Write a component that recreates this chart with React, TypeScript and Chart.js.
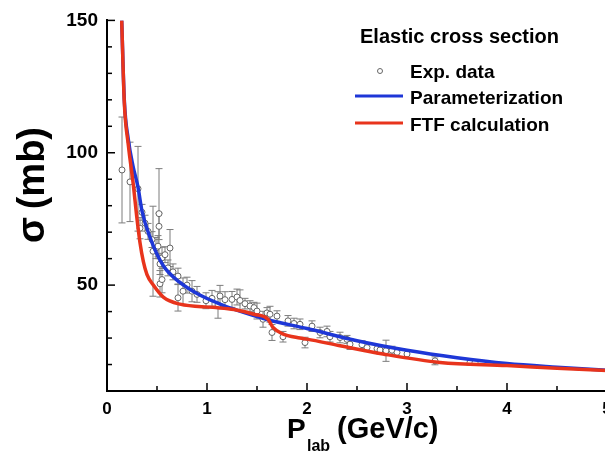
import React, { useEffect, useRef } from "react";
import { Chart, registerables } from "chart.js";

Chart.register(...registerables);

// Experimental data: P_lab (GeV/c), sigma (mb), error (mb)
const expP = [
  0.15, 0.23, 0.31, 0.33, 0.35, 0.38, 0.41, 0.45, 0.46, 0.49, 0.51, 0.52, 0.52, 0.53,
  0.53, 0.55, 0.55, 0.58, 0.61, 0.63, 0.66, 0.71, 0.71, 0.76, 0.8, 0.85, 0.9, 0.99,
  1.05, 1.11, 1.13, 1.18, 1.25, 1.3, 1.33, 1.38, 1.43, 1.47, 1.5, 1.56, 1.6, 1.63,
  1.65, 1.7, 1.76, 1.81, 1.87, 1.93, 1.98, 2.05, 2.13, 2.2, 2.23, 2.33, 2.4, 2.43,
  2.55, 2.6, 2.7, 2.73, 2.79, 2.85, 2.9, 3.0, 3.28, 3.63, 3.68,
];
const expSigma = [
  93.5, 89, 86.4, 71.5, 77.5, 73.4, 70.3, 67.2, 62.8, 64, 64.7, 77, 72.2, 58,
  50.5, 60.3, 52.1, 61.5, 56.5, 64, 55, 53.4, 45.2, 47.7, 50, 47.7, 46.5, 44.1,
  45, 42.5, 45.9, 44.5, 44.6, 45.5, 44.2, 43, 42.1, 41.5, 40.2, 37.1, 39.5, 39,
  32.1, 38.3, 30.5, 36.5, 35.5, 35.2, 28.3, 34.5, 32.1, 32.5, 30.5, 30.2, 29.5, 27.7,
  27.5, 26.4, 26, 25.5, 25.2, 25.4, 24.6, 24, 21.4, 20.8, 20.8,
];
const expErr = [
  20, 15, 16, 4, 3, 3, 3, 3, 17, 4, 4, 17, 5, 4,
  5, 4, 5, 3, 3, 7, 3, 3, 5, 5, 3, 4, 3, 3,
  3, 5, 4, 3, 3, 3, 4, 2, 2, 2, 3, 3, 2, 3,
  3, 2, 2, 2, 2, 2, 2, 2, 2, 2, 2, 2, 1.5, 2,
  1.5, 1.5, 1.5, 1.5, 4, 1.5, 1.5, 1.5, 1.5, 1, 1,
];

// Parameterization curve
const paramP = [0.147, 0.173, 0.213, 0.26, 0.31, 0.35, 0.43, 0.56, 0.73, 0.9, 1.13, 1.26, 1.6, 2.0, 2.5, 3.0, 3.5, 4.0, 4.5, 5.0];
const paramSigma = [150, 120, 105, 95, 87, 78, 68, 57.5, 51, 46.8, 42.8, 41, 37, 33.6, 29, 25.4, 22.6, 20.4, 19, 17.8];

// FTF calculation curve
const ftfP = [0.147, 0.173, 0.213, 0.263, 0.297, 0.33, 0.363, 0.4, 0.463, 0.563, 0.73, 1.06, 1.27, 1.47, 1.61, 1.66, 1.75, 1.93, 2.0, 2.33, 2.76, 3.33, 4.0, 4.5, 5.0];
const ftfSigma = [150, 119, 103, 88, 76, 66, 59, 54, 50, 45.5, 42.8, 41.6, 40.8, 39, 37.1, 34, 31.7, 30, 29.6, 27.1, 24, 20.8, 19.6, 18.6, 17.7];

const yLabelValues = [50, 100, 150];
const xLabelValues = [0, 1, 2, 3, 4, 5];

const FONT = '"Liberation Sans", Arial, Helvetica, sans-serif';
const BLUE = "rgb(30,55,215)";
const RED = "rgb(232,52,28)";

const errorBars = {
  id: "errorBars",
  beforeDatasetsDraw(chart: any) {
    const { ctx, chartArea, scales } = chart;
    const x = scales.x, y = scales.y;
    ctx.save();
    ctx.beginPath();
    ctx.rect(chartArea.left, chartArea.top, chartArea.right - chartArea.left, chartArea.bottom - chartArea.top);
    ctx.clip();
    ctx.strokeStyle = "#7d7d7d";
    ctx.lineWidth = 1;
    for (let i = 0; i < expP.length; i++) {
      const px = x.getPixelForValue(expP[i]);
      const t = y.getPixelForValue(expSigma[i] + expErr[i]);
      const b = y.getPixelForValue(expSigma[i] - expErr[i]);
      ctx.beginPath();
      ctx.moveTo(px, t);
      ctx.lineTo(px, b);
      ctx.moveTo(px - 3.5, t);
      ctx.lineTo(px + 3.5, t);
      ctx.moveTo(px - 3.5, b);
      ctx.lineTo(px + 3.5, b);
      ctx.stroke();
    }
    ctx.restore();
  },
};

const decorations = {
  id: "decorations",
  afterDraw(chart: any) {
    const { ctx, chartArea, scales } = chart;
    const x = scales.x, y = scales.y;
    ctx.save();
    // inward ticks
    ctx.strokeStyle = "#000";
    ctx.lineWidth = 1.5;
    y.ticks.forEach((t: any) => {
      const py = y.getPixelForValue(t.value);
      const len = yLabelValues.includes(t.value) ? 8 : 5;
      ctx.beginPath();
      ctx.moveTo(chartArea.left, py);
      ctx.lineTo(chartArea.left + len, py);
      ctx.stroke();
    });
    x.ticks.forEach((t: any) => {
      const px = x.getPixelForValue(t.value);
      const len = xLabelValues.includes(t.value) ? 8 : 5;
      ctx.beginPath();
      ctx.moveTo(px, chartArea.bottom);
      ctx.lineTo(px, chartArea.bottom - len);
      ctx.stroke();
    });

    // y axis title
    ctx.fillStyle = "#000";
    ctx.save();
    ctx.translate(44, 243);
    ctx.rotate(-Math.PI / 2);
    ctx.textBaseline = "alphabetic";
    ctx.textAlign = "left";
    ctx.font = `bold 38px ${FONT}`;
    ctx.fillText("σ", 0, 0);
    ctx.textAlign = "right";
    ctx.fillText("(mb)", 116, 0);
    ctx.restore();

    // x axis title
    ctx.textAlign = "left";
    ctx.textBaseline = "alphabetic";
    ctx.font = `bold 28px ${FONT}`;
    ctx.fillText("P", 287, 438);
    ctx.font = `bold 16px ${FONT}`;
    ctx.fillText("lab", 307, 451);
    ctx.font = `bold 29px ${FONT}`;
    ctx.fillText("(GeV/c)", 337, 438);

    // legend
    ctx.font = `bold 20px ${FONT}`;
    ctx.fillText("Elastic cross section", 360, 43);
    ctx.font = `bold 19px ${FONT}`;
    ctx.fillText("Exp. data", 410, 78);
    ctx.fillText("Parameterization", 410, 104);
    ctx.fillText("FTF calculation", 410, 131);
    ctx.beginPath();
    ctx.arc(380, 71, 2.5, 0, Math.PI * 2);
    ctx.fillStyle = "#fff";
    ctx.fill();
    ctx.strokeStyle = "#666";
    ctx.lineWidth = 1;
    ctx.stroke();
    ctx.lineWidth = 3;
    ctx.strokeStyle = BLUE;
    ctx.beginPath();
    ctx.moveTo(355, 96);
    ctx.lineTo(403, 96);
    ctx.stroke();
    ctx.strokeStyle = RED;
    ctx.beginPath();
    ctx.moveTo(355, 123);
    ctx.lineTo(403, 123);
    ctx.stroke();
    ctx.restore();
  },
};

export default function App() {
  const ref = useRef<HTMLCanvasElement | null>(null);
  useEffect(() => {
    if (!ref.current) return;
    const chart = new Chart(ref.current, {
      type: "scatter",
      data: {
        datasets: [
          {
            label: "Exp. data",
            data: expP.map((p, i) => ({ x: p, y: expSigma[i] })),
            pointStyle: "circle",
            pointRadius: 3,
            pointBackgroundColor: "#fff",
            pointBorderColor: "#666",
            pointBorderWidth: 1,
            showLine: false,
            order: 3,
          },
          {
            label: "Parameterization",
            data: paramP.map((p, i) => ({ x: p, y: paramSigma[i] })),
            showLine: true,
            borderColor: BLUE,
            borderWidth: 3.5,
            pointRadius: 0,
            cubicInterpolationMode: "monotone",
            order: 2,
          },
          {
            label: "FTF calculation",
            data: ftfP.map((p, i) => ({ x: p, y: ftfSigma[i] })),
            showLine: true,
            borderColor: RED,
            borderWidth: 3.5,
            pointRadius: 0,
            cubicInterpolationMode: "monotone",
            order: 1,
          },
        ],
      },
      options: {
        responsive: false,
        animation: false,
        layout: { padding: { top: 18, right: 13, left: 0, bottom: 0 } },
        plugins: { legend: { display: false }, tooltip: { enabled: false } },
        scales: {
          x: {
            type: "linear",
            min: 0,
            max: 5,
            grid: { display: false, drawTicks: false },
            border: { display: true, color: "#000", width: 2 },
            afterFit: (s: any) => { s.height = 61; },
            ticks: {
              stepSize: 0.5,
              padding: 8,
              autoSkip: false,
              maxRotation: 0,
              color: "#000",
              font: { family: FONT, size: 17, weight: "bold" },
              callback: (v: any) => (xLabelValues.includes(v) ? String(v) : ""),
            },
          },
          y: {
            type: "linear",
            min: 10,
            max: 150,
            grid: { display: false, drawTicks: false },
            border: { display: true, color: "#000", width: 2 },
            afterFit: (s: any) => { s.width = 107; },
            ticks: {
              stepSize: 10,
              padding: 9,
              autoSkip: false,
              color: "#000",
              font: { family: FONT, size: 19, weight: "bold" },
              callback: (v: any) => (yLabelValues.includes(v) ? String(v) : ""),
            },
          },
        },
      },
      plugins: [errorBars, decorations],
    } as any);
    return () => chart.destroy();
  }, []);
  return (
    <div style={{ position: "fixed", left: 0, top: 0, width: 620, height: 452, background: "#fff" }}>
      <canvas ref={ref} width={620} height={452} style={{ display: "block" }} />
    </div>
  );
}
